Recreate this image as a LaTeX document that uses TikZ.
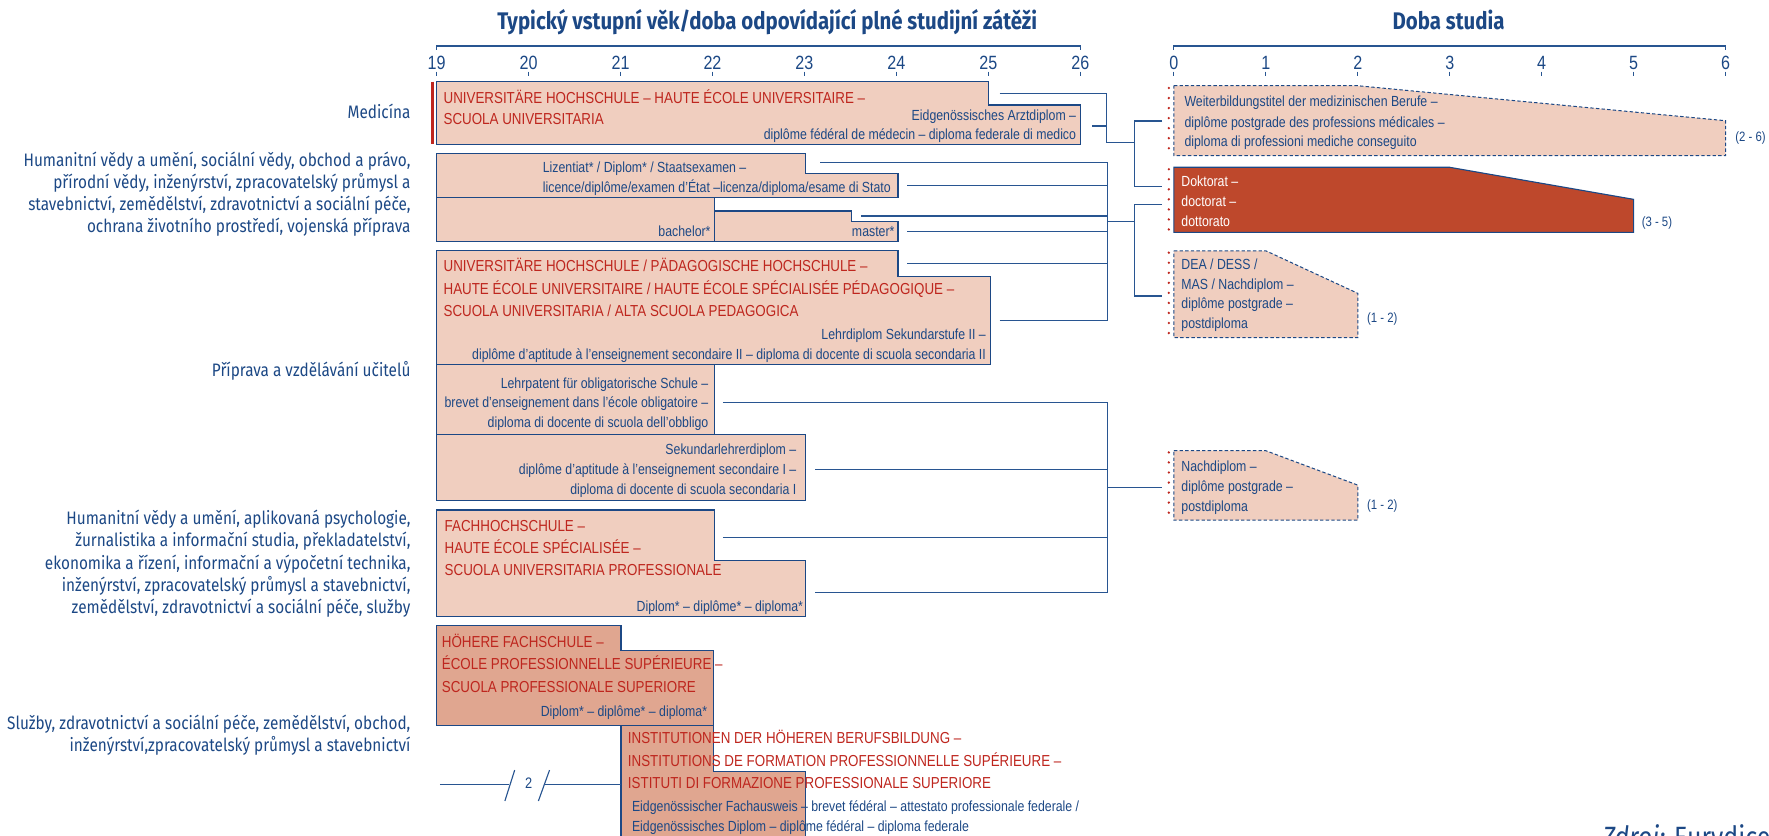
\documentclass[tikz,border=0pt]{standalone}
\usepackage{fontspec}
\setmainfont{Liberation Sans}
\newfontfamily\nar[FakeStretch=0.84]{Liberation Sans}
\newfontfamily\cond[FakeStretch=0.85]{Fira Sans}
\definecolor{dblue}{RGB}{28,72,133}
\definecolor{lblue}{RGB}{40,85,145}
\definecolor{pinkf}{RGB}{240,206,191}
\definecolor{salm}{RGB}{224,166,144}
\definecolor{redt}{RGB}{190,38,30}
\definecolor{dokt}{RGB}{190,72,44}
\newcommand\txtfnt{\nar\fontsize{13}{15}\selectfont}
\newcommand\redfnt{\nar\fontsize{14.1}{16}\selectfont}
\newcommand\labfnt{\cond\fontsize{16}{18}\selectfont}
\newcommand\ttlfnt{\cond\bfseries\fontsize{21.3}{23}\selectfont}
\newcommand\numfnt{\nar\fontsize{17}{18}\selectfont}
\newcommand\smfnt{\nar\fontsize{12}{14}\selectfont}
\begin{document}
\begin{tikzpicture}[x=1pt,y=-1pt,
  box/.style={draw=dblue,line width=1pt,fill=pinkf},
  sbox/.style={draw=dblue,line width=1pt,fill=salm},
  dbox/.style={draw=dblue,line width=0.9pt,dash pattern=on 3pt off 2pt,fill=pinkf},
  conn/.style={draw=lblue,line width=1pt},
  axisl/.style={draw=lblue,line width=1pt},
  rt/.style={text=redt,font=\redfnt,anchor=base west,inner sep=0pt},
  bt/.style={text=dblue,font=\txtfnt,anchor=base east,inner sep=0pt},
  btl/.style={text=dblue,font=\txtfnt,anchor=base west,inner sep=0pt},
  wt/.style={text=white,font=\txtfnt,anchor=base west,inner sep=0pt},
  lab/.style={text=dblue,font=\labfnt,anchor=base east,inner sep=0pt},
  ttl/.style={text=dblue,font=\ttlfnt,anchor=base,inner sep=0pt},
  num/.style={text=dblue,font=\numfnt,anchor=base,inner sep=0pt},
  rng/.style={text=dblue,font=\smfnt,anchor=base west,inner sep=0pt},
  reddots/.style={draw=redt,line width=2.3pt,line cap=round,dash pattern=on 0pt off 8.9pt}]
\useasboundingbox (0,0) rectangle (1568,741);
\clip (0,0) rectangle (1568,741);

% titles
\node[ttl] (t1) at (680,26) {Typický vstupní věk/doba odpovídající plné studijní zátěži};
\node[ttl] (t2) at (1284,26) {Doba studia};

% axes
\draw[axisl] (387,44) -- (387,40.8) -- (957.5,40.8) -- (957.5,44);
\foreach \i in {19,...,26} {
  \pgfmathsetmacro\xx{387+(\i-19)*81.5}
  \node[num] (n\i) at (\xx,61.5) {\i};
  \draw[axisl] (\xx,63.5) -- (\xx,67.4);
}
\draw[axisl] (1040.5,44) -- (1040.5,40.8) -- (1529.5,40.8) -- (1529.5,44);
\foreach \i in {0,...,6} {
  \pgfmathsetmacro\xx{1040.5+\i*81.5}
  \node[num] (r\i) at (\xx,61.5) {\i};
  \draw[axisl] (\xx,63.5) -- (\xx,67.4);
}

% left labels
\node[lab] (l1) at (364,105) {Medicína};
\node[lab] (l2a) at (364,147.4) {Humanitní vědy a umění, sociální vědy, obchod a právo,};
\node[lab] (l2b) at (364,167.5) {přírodní vědy, inženýrství, zpracovatelský průmysl a};
\node[lab] (l2c) at (364,186.7) {stavebnictví, zemědělství, zdravotnictví a sociální péče,};
\node[lab] (l2d) at (364,206) {ochrana životního prostředí, vojenská příprava};
\node[lab] (l3) at (364,333.6) {Příprava a vzdělávání učitelů};
\node[lab] (l4a) at (364,465) {Humanitní vědy a umění, aplikovaná psychologie,};
\node[lab] (l4b) at (364,484.3) {žurnalistika a informační studia, překladatelství,};
\node[lab] (l4c) at (364,504.4) {ekonomika a řízení, informační a výpočetní technika,};
\node[lab] (l4d) at (364,524.2) {inženýrství, zpracovatelský průmysl a stavebnictví,};
\node[lab] (l4e) at (364,543.4) {zemědělství, zdravotnictví a sociální péče, služby};
\node[lab] (l5a) at (364,647) {Služby, zdravotnictví a sociální péče, zemědělství, obchod,};
\node[lab] (l5b) at (364,666) {inženýrství,zpracovatelský průmysl a stavebnictví};

% red bar medicine
\draw[draw=redt,line width=2.5pt] (383.3,72.4) -- (383.3,128);

% Medicina box
\filldraw[box] (387,72.4) -- (876,72.4) -- (876,93.1) -- (957.5,93.1) -- (957.5,128) -- (387,128) -- cycle;
\node[rt] (m1) at (393,91.5) {UNIVERSITÄRE HOCHSCHULE – HAUTE ÉCOLE UNIVERSITAIRE –};
\node[rt] (m2) at (393,110) {SCUOLA UNIVERSITARIA};
\node[bt] (m3) at (954,106.5) {Eidgenössisches Arztdiplom –};
\node[bt] (m4) at (954,123.5) {diplôme fédéral de médecin – diploma federale di medico};

% Lizentiat
\filldraw[box] (387,136) -- (714,136) -- (714,154) -- (796,154) -- (796,175) -- (387,175) -- cycle;
\node[btl] (z1) at (481,153) {Lizentiat* / Diplom* / Staatsexamen –};
\node[btl] (z2) at (481,171) {licence/diplôme/examen d’État –licenza/diploma/esame di Stato};
% bachelor / master
\filldraw[box] (387,175) rectangle (633,213.7);
\filldraw[box] (633,187) -- (755,187) -- (755,196.5) -- (796,196.5) -- (796,213.7) -- (633,213.7) -- cycle;
\node[bt] (ba) at (630,210) {bachelor*};
\node[bt] (ma) at (793,210) {master*};

% Uni / PH
\filldraw[box] (387,222) -- (796,222) -- (796,245) -- (877.7,245) -- (877.7,322.7) -- (387,322.7) -- cycle;
\node[rt] (u1) at (393,241) {UNIVERSITÄRE HOCHSCHULE / PÄDAGOGISCHE HOCHSCHULE –};
\node[rt] (u2) at (393,261) {HAUTE ÉCOLE UNIVERSITAIRE / HAUTE ÉCOLE SPÉCIALISÉE PÉDAGOGIQUE –};
\node[rt] (u3) at (393,280.5) {SCUOLA UNIVERSITARIA / ALTA SCUOLA PEDAGOGICA};
\node[bt] (u4) at (874,300.5) {Lehrdiplom Sekundarstufe II –};
\node[bt] (u5) at (874,319) {diplôme d’aptitude à l’enseignement secondaire II – diploma di docente di scuola secondaria II};

% Lehrpatent
\filldraw[box] (387,322.7) rectangle (633,385);
\node[bt] (p1) at (628,344.3) {Lehrpatent für obligatorische Schule –};
\node[bt] (p2) at (628,361.3) {brevet d’enseignement dans l’école obligatoire –};
\node[bt] (p3) at (628,379.2) {diploma di docente di scuola dell’obbligo};

% Sekundarlehrer
\filldraw[box] (387,385) rectangle (714,443.3);
\node[bt] (s1) at (706,403) {Sekundarlehrerdiplom –};
\node[bt] (s2) at (706,420.5) {diplôme d’aptitude à l’enseignement secondaire I –};
\node[bt] (s3) at (706,438) {diploma di docente di scuola secondaria I};

% Fachhochschule
\filldraw[box] (387,452) -- (633,452) -- (633,496.5) -- (714,496.5) -- (714,546.7) -- (387,546.7) -- cycle;
\node[rt] (f1) at (394,471) {FACHHOCHSCHULE –};
\node[rt] (f2) at (394,490.6) {HAUTE ÉCOLE SPÉCIALISÉE –};
\node[rt] (f3) at (394,510) {SCUOLA UNIVERSITARIA PROFESSIONALE};
\node[bt] (f4) at (712,542.3) {Diplom* – diplôme* – diploma*};

% Hoehere Fachschule
\filldraw[sbox] (387,554.7) -- (550.4,554.7) -- (550.4,576.2) -- (632.3,576.2) -- (632.3,642.7) -- (387,642.7) -- cycle;
% Institutionen
\filldraw[sbox] (550.4,760) -- (550.4,642.7) -- (632.3,642.7) -- (632.3,683.5) -- (714,683.5) -- (714,760);
\node[rt] (h1) at (391.5,574) {HÖHERE FACHSCHULE –};
\node[rt] (h2) at (391.5,593.3) {ÉCOLE PROFESSIONNELLE SUPÉRIEURE –};
\node[rt] (h3) at (391.5,614) {SCUOLA PROFESSIONALE SUPERIORE};
\node[bt] (h4) at (627,635.4) {Diplom* – diplôme* – diploma*};
\node[rt] (i1) at (556.4,659) {INSTITUTIONEN DER HÖHEREN BERUFSBILDUNG –};
\node[rt] (i2) at (556.4,679) {INSTITUTIONS DE FORMATION PROFESSIONNELLE SUPÉRIEURE –};
\node[rt] (i3) at (556.4,698.5) {ISTITUTI DI FORMAZIONE PROFESSIONALE SUPERIORE};
\node[btl] (i4) at (560,719.6) {Eidgenössischer Fachausweis – brevet fédéral – attestato professionale federale /};
\node[btl] (i5) at (560,736.8) {Eidgenössisches Diplom – diplôme fédéral – diploma federale};

% break marker
\coordinate (bk0) at (390,695);
\coordinate (bk1) at (451.5,695);
\coordinate (bk2) at (482,695);
\coordinate (bk3) at (550.4,695);
\draw[conn] (bk0) -- (bk1);
\draw[conn] (bk2) -- (bk3);
\draw[conn] (447.5,710) -- (456.2,682.6);
\draw[conn] (477.2,710) -- (487.1,682.6);
\node[text=dblue,font=\nar\fontsize{13.5}{15}\selectfont,anchor=base,inner sep=0pt] (two) at (468.5,699) {2};

% right side boxes
\filldraw[dbox] (1040.5,76) -- (1203.5,76) -- (1529.5,107) -- (1529.5,138) -- (1040.5,138) -- cycle;
\draw[reddots] (1036,78) -- (1036,137);
\node[btl] (w1) at (1049.7,94.5) {Weiterbildungstitel der medizinischen Berufe –};
\node[btl] (w2) at (1049.7,113) {diplôme postgrade des professions médicales –};
\node[btl] (w3) at (1049.7,130) {diploma di professioni mediche conseguito};
\node[rng] (w4) at (1538,125.5) {(2 - 6)};

\filldraw[draw=dblue,line width=1pt,fill=dokt] (1040.5,148.3) -- (1285,148.3) -- (1448,176.7) -- (1448,206) -- (1040.5,206) -- cycle;
\draw[reddots] (1036,150) -- (1036,206);
\node[wt] (d1) at (1047,165.5) {Doktorat –};
\node[wt] (d2) at (1047,183.3) {doctorat –};
\node[wt] (d3) at (1047,200.5) {dottorato};
\node[rng] (d4) at (1455,200.5) {(3 - 5)};

\filldraw[dbox] (1040.5,222.3) -- (1122,222.3) -- (1203.5,260) -- (1203.5,299.3) -- (1040.5,299.3) -- cycle;
\draw[reddots] (1036,224) -- (1036,299);
\node[btl] (e1) at (1047,238.8) {DEA / DESS /};
\node[btl] (e2) at (1047,256.5) {MAS / Nachdiplom –};
\node[btl] (e3) at (1047,273.5) {diplôme postgrade –};
\node[btl] (e4) at (1047,291) {postdiploma};
\node[rng] (e5) at (1211.5,285.8) {(1 - 2)};

\filldraw[dbox] (1040.5,399.5) -- (1122,399.5) -- (1203.5,430) -- (1203.5,461) -- (1040.5,461) -- cycle;
\draw[reddots] (1036,401) -- (1036,461);
\node[btl] (g1) at (1047,418.2) {Nachdiplom –};
\node[btl] (g2) at (1047,436) {diplôme postgrade –};
\node[btl] (g3) at (1047,453) {postdiploma};
\node[rng] (g4) at (1211.5,451.3) {(1 - 2)};

% connectors: medicine
\draw[conn] (886,82.7) -- (981,82.7);
\draw[conn] (968,111.7) -- (981,111.7);
\draw[conn] (981,82.7) -- (981,126.2) -- (1005.6,126.2);
\draw[conn] (1030,107.3) -- (1005.6,107.3) -- (1005.6,165.5) -- (1030,165.5);
% connectors: university
\foreach \yy/\xs in {144.2/727, 164.3/804, 191.5/763, 205.4/804, 233.4/804, 283.7/886}
  \draw[conn] (\xs,\yy) -- (982,\yy);
\draw[conn] (982,144.2) -- (982,283.7);
\draw[conn] (982,196.5) -- (1005.6,196.5);
\draw[conn] (1030,180.9) -- (1005.6,180.9) -- (1005.6,262.4) -- (1030,262.4);
% connectors: teachers / FH
\foreach \yy/\xs in {356.7/640.7, 416/722.5, 476.6/640.7, 525.4/722.5}
  \draw[conn] (\xs,\yy) -- (982,\yy);
\draw[conn] (982,356.7) -- (982,525.4);
\draw[conn] (982,432.3) -- (1030,432.3);

% source
\node[text=dblue,font=\cond\fontsize{26}{28}\selectfont,anchor=base west,inner sep=0pt] (src) at (1420,751) {\textit{Zdroj:} Eurydice};
\end{tikzpicture}
\end{document}
